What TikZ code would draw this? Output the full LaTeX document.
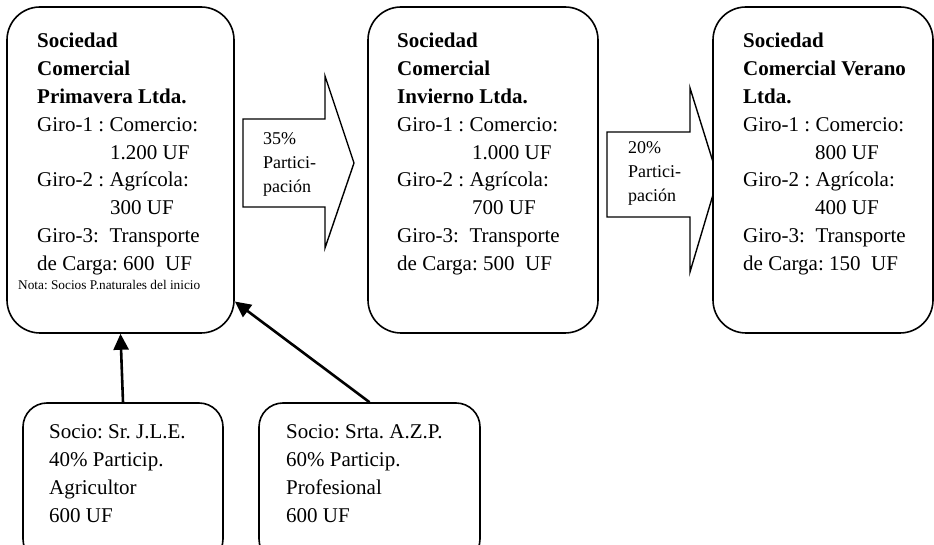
\documentclass[tikz,border=0pt]{standalone}
\usepackage{fontspec}
\setmainfont{Liberation Serif}
\usetikzlibrary{positioning,arrows.meta}
\frenchspacing

\begin{document}
\begin{tikzpicture}[x=1pt,y=1pt,
  socbox/.style={draw,line width=1.6pt,rounded corners=33pt,fill=white,inner sep=0pt},
  partbox/.style={draw,line width=1.6pt,rounded corners=24pt,fill=white,inner sep=0pt},
  bigtxt/.style={anchor=base west,align=left,inner sep=0pt,font=\fontsize{21}{27.8}\selectfont},
  sociotxt/.style={bigtxt,font=\fontsize{21}{28.3}\selectfont},
  arrtxt/.style={anchor=base west,align=left,inner sep=0pt,font=\fontsize{18}{24}\selectfont},
  notatxt/.style={anchor=base west,inner sep=0pt,font=\fontsize{13.3}{16}\selectfont},
  blockarrow/.style={draw,line width=1.4pt,fill=white,line join=miter},
  socarrow/.style={line width=2.6pt,-{Triangle[length=16pt,width=15pt]}}]
  \clip (0,0) rectangle (934,545);
  % sociedad primavera (text nodes sit on their last baseline)
  \node[socbox,minimum width=227pt,minimum height=326pt] (prim) at (120.5,375) {};
  \node[bigtxt] (primtxt) at (37,274.6) {\textbf{Sociedad}\\\textbf{Comercial}\\\textbf{Primavera Ltda.}\\
    Giro-1 : Comercio:\\\hspace*{73pt}1.200 UF\\Giro-2 : Agrícola:\\\hspace*{73pt}300 UF\\
    Giro-3:\ \ Transporte\\de Carga: 600\ \ UF};
  \node[notatxt] (primnota) at (18,255) {Nota: Socios P.naturales del inicio};
  % 35% participacion
  \draw[blockarrow] (243,426) -- (325,426) -- (325,469) -- (354,382) -- (325,297) -- (325,338) -- (243,338) -- cycle;
  \node[arrtxt] (part1) at (263,352) {35\%\\Partici-\\pación};
  % sociedad invierno
  \node[socbox,minimum width=230pt,minimum height=326pt] (inv) at (483,375) {};
  \node[bigtxt] (invtxt) at (397,274.6) {\textbf{Sociedad}\\\textbf{Comercial}\\\textbf{Invierno Ltda.}\\
    Giro-1 : Comercio:\\\hspace*{75pt}1.000 UF\\Giro-2 : Agrícola:\\\hspace*{75pt}700 UF\\
    Giro-3:\ \ Transporte\\de Carga: 500\ \ UF};
  % 20% participacion
  \draw[blockarrow] (607,413) -- (690,413) -- (690,457) -- (718,367) -- (690,273) -- (690,328) -- (607,328) -- cycle;
  \node[arrtxt] (part2) at (628,343) {20\%\\Partici-\\pación};
  % sociedad verano
  \node[socbox,minimum width=220pt,minimum height=326pt] (ver) at (823,375) {};
  \node[bigtxt] (vertxt) at (743,274.6) {\textbf{Sociedad}\\\textbf{Comercial Verano}\\\textbf{Ltda.}\\
    Giro-1 : Comercio:\\\hspace*{72pt}800 UF\\Giro-2 : Agrícola:\\\hspace*{72pt}400 UF\\
    Giro-3:\ \ Transporte\\de Carga: 150\ \ UF};
  % socios
  \node[partbox,minimum width=200pt,minimum height=160pt] (jle) at (123,62) {};
  \node[sociotxt] (jletxt) at (49,22) {Socio: Sr. J.L.E.\\40\% Particip.\\Agricultor\\600 UF};
  \node[partbox,minimum width=221pt,minimum height=160pt] (azp) at (369.5,62) {};
  \node[sociotxt] (azptxt) at (286,22) {Socio: Srta. A.Z.P.\\60\% Particip.\\Profesional\\600 UF};
  \draw[socarrow] (jle.north) -- (prim.south);
  \draw[socarrow] (azp.north) -- (prim.-49);
\end{tikzpicture}
\end{document}
